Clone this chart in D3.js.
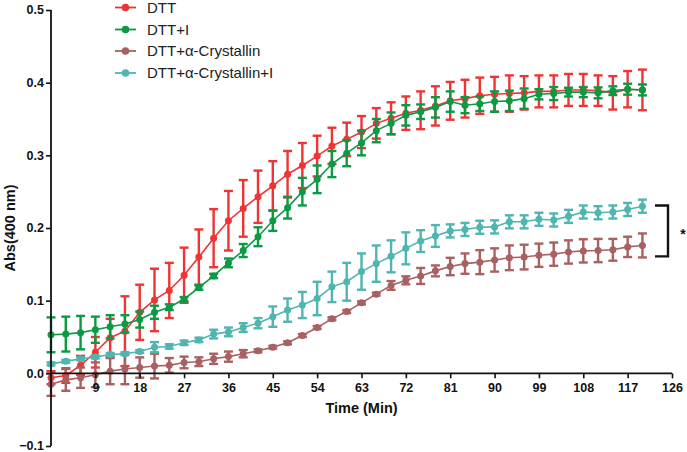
<!DOCTYPE html>
<html><head><meta charset="utf-8">
<script src="https://cdn.jsdelivr.net/npm/d3@7"></script>
<style>
html,body{margin:0;padding:0;background:#fff;}
svg{display:block;font-family:"Liberation Sans",Arial,sans-serif;}
</style></head>
<body><svg id="chart" width="687" height="452"></svg>
<script>
// Time points (min)
const times = d3.range(0, 121, 3);
const xTicks = [9,18,27,36,45,54,63,72,81,90,99,108,117,126];
const yTicks = [-0.1,0,0.1,0.2,0.3,0.4,0.5];
const seriesNames = ["DTT","DTT+I","DTT+\u03b1-Crystallin","DTT+\u03b1-Crystallin+I"];
const seriesColors = ["#ee3434","#0b9a43","#a86060","#4fb5b0"];

const dttMean = [-0.006,-0.003,0.011,0.029,0.049,0.058,0.084,0.101,0.114,0.135,0.160,0.186,0.210,0.227,0.243,0.258,0.274,0.286,0.299,0.313,0.322,0.332,0.344,0.351,0.358,0.362,0.368,0.375,0.378,0.382,0.384,0.385,0.386,0.388,0.388,0.390,0.390,0.389,0.386,0.391,0.390];
const dttErr  = [0.009,0.010,0.013,0.021,0.026,0.048,0.038,0.043,0.038,0.038,0.038,0.040,0.041,0.039,0.036,0.034,0.032,0.031,0.028,0.025,0.023,0.022,0.021,0.022,0.023,0.026,0.027,0.026,0.026,0.025,0.024,0.025,0.023,0.022,0.022,0.022,0.022,0.021,0.023,0.025,0.028];

const dttIMean = [0.053,0.054,0.056,0.060,0.064,0.068,0.074,0.084,0.091,0.102,0.118,0.134,0.152,0.169,0.188,0.210,0.228,0.250,0.267,0.288,0.303,0.317,0.334,0.344,0.355,0.360,0.366,0.374,0.369,0.371,0.374,0.375,0.378,0.384,0.385,0.387,0.387,0.386,0.389,0.391,0.390];
const dttIErr  = [0.024,0.024,0.023,0.018,0.016,0.012,0.011,0.009,0.004,0.003,0.003,0.003,0.006,0.009,0.013,0.014,0.015,0.019,0.019,0.018,0.018,0.017,0.016,0.015,0.014,0.010,0.014,0.014,0.011,0.010,0.014,0.014,0.014,0.007,0.009,0.006,0.007,0.0075,0.006,0.0075,0.0075];

const crysMean = [-0.015,-0.009,-0.006,-0.002,0.003,0.006,0.008,0.010,0.011,0.015,0.016,0.020,0.023,0.027,0.031,0.036,0.042,0.052,0.063,0.075,0.085,0.097,0.109,0.121,0.128,0.134,0.141,0.147,0.151,0.153,0.156,0.159,0.160,0.1625,0.164,0.167,0.1685,0.169,0.170,0.174,0.176];
const crysErr  = [0.016,0.015,0.014,0.017,0.018,0.021,0.014,0.017,0.010,0.008,0.006,0.007,0.007,0.005,0.002,0.002,0.002,0.002,0.002,0.002,0.002,0.002,0.002,0.006,0.0055,0.011,0.0075,0.012,0.014,0.0165,0.016,0.017,0.017,0.016,0.016,0.016,0.016,0.016,0.015,0.014,0.0165];

const crysIMean = [0.013,0.0165,0.020,0.0225,0.026,0.027,0.030,0.036,0.037,0.042,0.046,0.054,0.057,0.063,0.069,0.078,0.087,0.094,0.103,0.119,0.126,0.140,0.151,0.161,0.172,0.182,0.189,0.196,0.198,0.201,0.2015,0.2085,0.2085,0.212,0.211,0.216,0.222,0.221,0.222,0.2255,0.230];
const crysIErr  = [0.002,0.002,0.002,0.002,0.002,0.002,0.002,0.007,0.003,0.003,0.003,0.006,0.006,0.006,0.007,0.014,0.016,0.018,0.023,0.021,0.026,0.025,0.025,0.022,0.022,0.015,0.015,0.009,0.009,0.009,0.009,0.009,0.009,0.009,0.009,0.009,0.009,0.009,0.009,0.009,0.009];

const sigTop = 0.231, sigBottom = 0.161;

const means = [dttMean, dttIMean, crysMean, crysIMean];
const errs = [dttErr, dttIErr, crysErr, crysIErr];

const svg = d3.select("#chart");
const x = d3.scaleLinear().domain([0,126]).range([51,672]);
const y = d3.scaleLinear().domain([-0.1,0.5]).range([446,10]);

// Series
const line = d3.line().x(d=>x(d.t)).y(d=>y(d.v));
means.forEach((m,i)=>{
  const data = times.map((t,j)=>({t, v:m[j], e:errs[i][j]}));
  const g = svg.append("g").attr("stroke", seriesColors[i]).attr("fill", seriesColors[i]);
  g.append("path").datum(data).attr("d", line).attr("fill","none").attr("stroke-width",1.6);
  const eb = g.selectAll("g.eb").data(data).enter().append("g").attr("class","eb")
    .attr("stroke-width",2.4);
  eb.append("line").attr("x1",d=>x(d.t)).attr("x2",d=>x(d.t)).attr("y1",d=>y(d.v-d.e)).attr("y2",d=>y(d.v+d.e));
  eb.append("line").attr("x1",d=>x(d.t)-4.5).attr("x2",d=>x(d.t)+4.5).attr("y1",d=>y(d.v+d.e)).attr("y2",d=>y(d.v+d.e));
  eb.append("line").attr("x1",d=>x(d.t)-4.5).attr("x2",d=>x(d.t)+4.5).attr("y1",d=>y(d.v-d.e)).attr("y2",d=>y(d.v-d.e));
  g.selectAll("circle").data(data).enter().append("circle")
    .attr("cx",d=>x(d.t)).attr("cy",d=>y(d.v)).attr("r",3.5).attr("stroke","none");
});

// Axes
const yAxis = svg.append("g").attr("transform","translate(51,0)")
  .call(d3.axisLeft(y).tickValues(yTicks).tickSize(5).tickPadding(2).tickFormat(d3.format(".1f")));
const xAxis = svg.append("g").attr("transform",`translate(0,${y(0)})`)
  .call(d3.axisBottom(x).tickValues(xTicks).tickSize(5).tickPadding(5).tickFormat(d3.format("d")));
[yAxis,xAxis].forEach(a=>{
  a.select(".domain").attr("stroke","#111").attr("stroke-width",1.8);
  a.selectAll(".tick line").attr("stroke","#111").attr("stroke-width",1.6);
  a.selectAll(".tick text").attr("fill","#111").style("font-size","12.5px").style("font-weight","bold");
});
yAxis.selectAll(".tick text").attr("dy","0.3em");
yAxis.select(".domain").attr("d",`M0,${y(0.5)}V${y(-0.1)}`);
xAxis.select(".domain").attr("d",`M${x(0)},0H${x(126)}`);

svg.append("text").attr("x",x(63)).attr("y",413).attr("text-anchor","middle")
  .style("font-size","14.5px").style("font-weight","bold").attr("fill","#111").text("Time (Min)");
svg.append("text").attr("transform",`translate(14.5,${(y(0.5)+y(-0.1))/2}) rotate(-90)`)
  .attr("text-anchor","middle").style("font-size","14.5px").style("font-weight","bold").attr("fill","#111").text("Abs(400 nm)");

// Legend
const legendY = [7.5,29.5,51,73];
seriesNames.forEach((n,i)=>{
  const g = svg.append("g");
  g.append("line").attr("x1",115).attr("x2",136).attr("y1",legendY[i]).attr("y2",legendY[i])
    .attr("stroke",seriesColors[i]).attr("stroke-width",1.8);
  g.append("circle").attr("cx",125.5).attr("cy",legendY[i]).attr("r",3.8).attr("fill",seriesColors[i]);
  g.append("text").attr("x",147).attr("y",legendY[i]).attr("dy","0.36em")
    .style("font-size","15px").attr("fill","#222").text(n);
});

// Significance bracket
const bx = 668;
svg.append("path").attr("d",`M655,${y(sigTop)}H${bx}V${y(sigBottom)}H655`)
  .attr("fill","none").attr("stroke","#111").attr("stroke-width",2.4);
svg.append("text").attr("x",683).attr("y",(y(sigTop)+y(sigBottom))/2).attr("dy","0.55em")
  .attr("text-anchor","middle").style("font-size","14px").style("font-weight","bold").attr("fill","#111").text("*");
</script></body></html>
